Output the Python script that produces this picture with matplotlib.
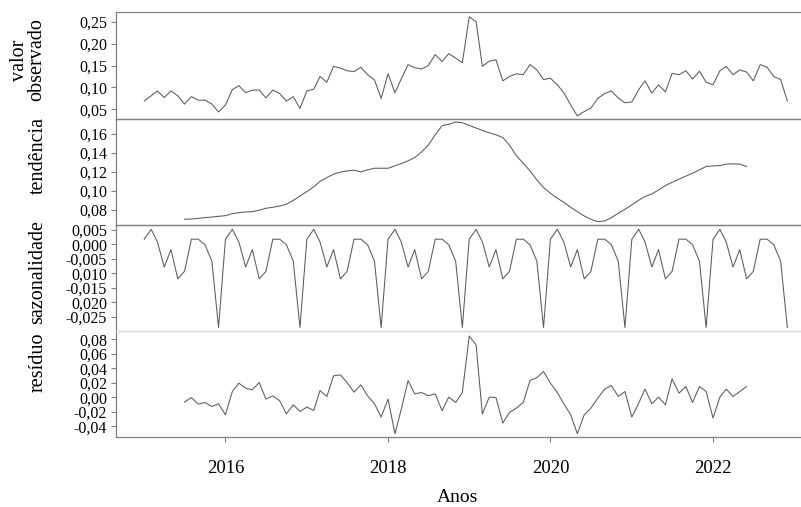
"""
plot.py
Decomposição da série mensal (2015-2022): valor observado, tendência,
sazonalidade e resíduo, em quatro painéis empilhados.
"""

import numpy as np
import pandas as pd
import matplotlib
matplotlib.use("Agg")
import matplotlib.pyplot as plt
import matplotlib.dates as mdates
from matplotlib.ticker import FixedLocator, FixedFormatter

plt.rcParams["font.family"] = ["Liberation Serif", "DejaVu Serif"]

nan = np.nan

# ------------------------------------------------------------------ #
# Dados (mensal, jan/2015 a dez/2022)
# ------------------------------------------------------------------ #
listDates = pd.date_range("2015-01-01", periods=96, freq="MS")

listObserved = [
    0.069, 0.081, 0.092, 0.077, 0.092, 0.081, 0.062, 0.079, 0.071, 0.071, 0.062, 0.044,
    0.060, 0.095, 0.104, 0.088, 0.094, 0.094, 0.076, 0.094, 0.086, 0.069, 0.079, 0.052,
    0.092, 0.096, 0.125, 0.112, 0.148, 0.144, 0.138, 0.136, 0.146, 0.129, 0.117, 0.075,
    0.131, 0.088, 0.119, 0.152, 0.145, 0.142, 0.150, 0.175, 0.159, 0.177, 0.167, 0.156,
    0.261, 0.250, 0.148, 0.160, 0.163, 0.115, 0.125, 0.131, 0.129, 0.152, 0.140, 0.118,
    0.121, 0.106, 0.088, 0.060, 0.035, 0.045, 0.053, 0.075, 0.086, 0.092, 0.076, 0.065,
    0.067, 0.095, 0.115, 0.087, 0.106, 0.090, 0.132, 0.129, 0.138, 0.119, 0.137, 0.112,
    0.106, 0.138, 0.148, 0.129, 0.140, 0.135, 0.115, 0.152, 0.146, 0.125, 0.118, 0.069,
]

listTrend = [
    nan, nan, nan, nan, nan, nan, 0.0702, 0.0705, 0.0712, 0.0719, 0.0726, 0.0733,
    0.0740, 0.0761, 0.0772, 0.0779, 0.0782, 0.0797, 0.0818, 0.0828, 0.0842, 0.0860, 0.0900, 0.0947,
    0.0993, 0.1042, 0.1100, 0.1140, 0.1176, 0.1197, 0.1210, 0.1218, 0.1200, 0.1221, 0.1238, 0.1238,
    0.1238, 0.1263, 0.1287, 0.1316, 0.1350, 0.1410, 0.1480, 0.1590, 0.1685, 0.1700, 0.1723, 0.1716,
    0.1688, 0.1660, 0.1635, 0.1610, 0.1590, 0.1560, 0.1480, 0.1370, 0.1290, 0.1210, 0.1116, 0.1035,
    0.0976, 0.0923, 0.0881, 0.0828, 0.0782, 0.0737, 0.0702, 0.0677, 0.0684, 0.0719, 0.0765, 0.0807,
    0.0853, 0.0902, 0.0940, 0.0968, 0.1010, 0.1056, 0.1091, 0.1123, 0.1155, 0.1186, 0.1221, 0.1256,
    0.1263, 0.1266, 0.1281, 0.1284, 0.1281, 0.1256, nan, nan, nan, nan, nan, nan,
]

listSeasonal = [
    0.0018, 0.0052, 0.0009, -0.0078, -0.0018, -0.0119, -0.0093, 0.0018, 0.0018, -0.0001, -0.0058, -0.0287,
    0.0018, 0.0052, 0.0009, -0.0078, -0.0018, -0.0119, -0.0093, 0.0018, 0.0018, -0.0001, -0.0058, -0.0287,
    0.0018, 0.0052, 0.0009, -0.0078, -0.0018, -0.0119, -0.0093, 0.0018, 0.0018, -0.0001, -0.0058, -0.0287,
    0.0018, 0.0052, 0.0009, -0.0078, -0.0018, -0.0119, -0.0093, 0.0018, 0.0018, -0.0001, -0.0058, -0.0287,
    0.0018, 0.0052, 0.0009, -0.0078, -0.0018, -0.0119, -0.0093, 0.0018, 0.0018, -0.0001, -0.0058, -0.0287,
    0.0018, 0.0052, 0.0009, -0.0078, -0.0018, -0.0119, -0.0093, 0.0018, 0.0018, -0.0001, -0.0058, -0.0287,
    0.0018, 0.0052, 0.0009, -0.0078, -0.0018, -0.0119, -0.0093, 0.0018, 0.0018, -0.0001, -0.0058, -0.0287,
    0.0018, 0.0052, 0.0009, -0.0078, -0.0018, -0.0119, -0.0093, 0.0018, 0.0018, -0.0001, -0.0058, -0.0287,
]

listResidual = [
    nan, nan, nan, nan, nan, nan, -0.0066, -0.0003, -0.0094, -0.0071, -0.0126, -0.0089,
    -0.0241, 0.0080, 0.0195, 0.0126, 0.0103, 0.0203, -0.0025, 0.0021, -0.0048, -0.0227, -0.0103, -0.0195,
    -0.0135, -0.0181, 0.0093, 0.0011, 0.0296, 0.0309, 0.0203, 0.0071, 0.0172, 0.0021, -0.0089, -0.0272,
    -0.0025, -0.0502, -0.0172, 0.0231, 0.0048, 0.0066, 0.0021, 0.0048, -0.0186, 0.0003, -0.0071, 0.0066,
    0.0845, 0.0722, -0.0231, 0.0003, -0.0003, -0.0355, -0.0209, -0.0148, -0.0071, 0.0231, 0.0272, 0.0355,
    0.0195, 0.0066, -0.0089, -0.0241, -0.0502, -0.0241, -0.0148, -0.0011, 0.0113, 0.0162, 0.0011, 0.0080,
    -0.0272, -0.0080, 0.0113, -0.0089, 0.0003, -0.0103, 0.0254, 0.0058, 0.0148, -0.0071, 0.0148, 0.0080,
    -0.0286, 0.0003, 0.0113, 0.0011, 0.0080, 0.0148, nan, nan, nan, nan, nan, nan,
]

# ticks do eixo y de cada painel (rótulos como aparecem na figura)
listObsTicks = [0.05, 0.10, 0.15, 0.20, 0.25]
listTrendTicks = [0.08, 0.10, 0.12, 0.14, 0.16]
listSeasTicks = [0.005, 0.0, -0.005, -0.010, -0.015, -0.020, -0.025]
listSeasLabels = ["0,005", "0,000", "-0,005", "0,010", "-0,015", "0,020", "-0,025"]
listResTicks = [-0.04, -0.02, 0.0, 0.02, 0.04, 0.06, 0.08]

listPanelLabels = ["valor\nobservado", "tendência", "sazonalidade", "resíduo"]

# ------------------------------------------------------------------ #
# Figura
# ------------------------------------------------------------------ #
W, H = 801, 507
fig = plt.figure(figsize=(W / 100, H / 100), dpi=100)

CLR_LINE = "#5a5a5a"
CLR_DARK = "#808080"
CLR_LIGHT = "#d8d8d8"

left, right = 116 / W, 800 / W
rows = [(12, 119), (119, 225), (225, 331), (331, 437)]   # topo/base em px


def _fmt(values, decimals):
    return [f"{v:.{decimals}f}".replace(".", ",") for v in values]


axes = []
for top, bottom in rows:
    ax = fig.add_axes([left, 1 - bottom / H, right - left, (bottom - top) / H])
    axes.append(ax)

ax_obs, ax_trend, ax_seas, ax_res = axes

ax_obs.plot(listDates, listObserved, color=CLR_LINE, linewidth=0.75)
ax_trend.plot(listDates, listTrend, color=CLR_LINE, linewidth=0.75)
ax_seas.plot(listDates, listSeasonal, color=CLR_LINE, linewidth=0.75)
ax_res.plot(listDates, listResidual, color=CLR_LINE, linewidth=0.75)

ax_obs.set_ylim(0.028, 0.272)
ax_trend.set_ylim(0.0642, 0.1755)
ax_seas.set_ylim(-0.0299, 0.0067)
ax_res.set_ylim(-0.0547, 0.0914)

ax_obs.yaxis.set_major_locator(FixedLocator(listObsTicks))
ax_obs.yaxis.set_major_formatter(FixedFormatter(_fmt(listObsTicks, 2)))
ax_trend.yaxis.set_major_locator(FixedLocator(listTrendTicks))
ax_trend.yaxis.set_major_formatter(FixedFormatter(_fmt(listTrendTicks, 2)))
ax_seas.yaxis.set_major_locator(FixedLocator(listSeasTicks))
ax_seas.yaxis.set_major_formatter(FixedFormatter(listSeasLabels))
ax_res.yaxis.set_major_locator(FixedLocator(listResTicks))
ax_res.yaxis.set_major_formatter(FixedFormatter(_fmt(listResTicks, 2)))

for i, ax in enumerate(axes):
    ax.set_xlim(pd.Timestamp("2014-08-27"), pd.Timestamp("2023-01-27"))
    ax.spines["right"].set_visible(False)
    for side in ("left", "top", "bottom"):
        ax.spines[side].set_color(CLR_DARK)
        ax.spines[side].set_linewidth(0.9)
    ax.tick_params(axis="y", direction="out", length=3.5, width=0.8,
                   color=CLR_DARK, labelsize=11.5, pad=3)
    if i < 3:
        ax.tick_params(axis="x", bottom=False, labelbottom=False)
    ax.patch.set_alpha(0)
# End FOR

# divisória clara entre sazonalidade e resíduo
ax_seas.spines["bottom"].set_color(CLR_LIGHT)
ax_res.spines["top"].set_color(CLR_LIGHT)

ax_res.xaxis.set_major_locator(mdates.YearLocator(2))
ax_res.xaxis.set_major_formatter(mdates.DateFormatter("%Y"))
ax_res.tick_params(axis="x", direction="out", length=3.5, width=0.8,
                   color=CLR_DARK, labelsize=13.5, pad=13)

# rótulos dos painéis
labelPos = [(28, 60), (38, 155), (38, 272), (38, 362)]
for text, (px, py) in zip(listPanelLabels, labelPos):
    fig.text(px / W, 1 - py / H, text, rotation=90, ha="center", va="center",
             fontsize=14.5, linespacing=0.85)

fig.text(458 / W, 1 - 497 / H, "Anos", ha="center", va="center", fontsize=14)

fig.savefig("out.png", dpi=100)
